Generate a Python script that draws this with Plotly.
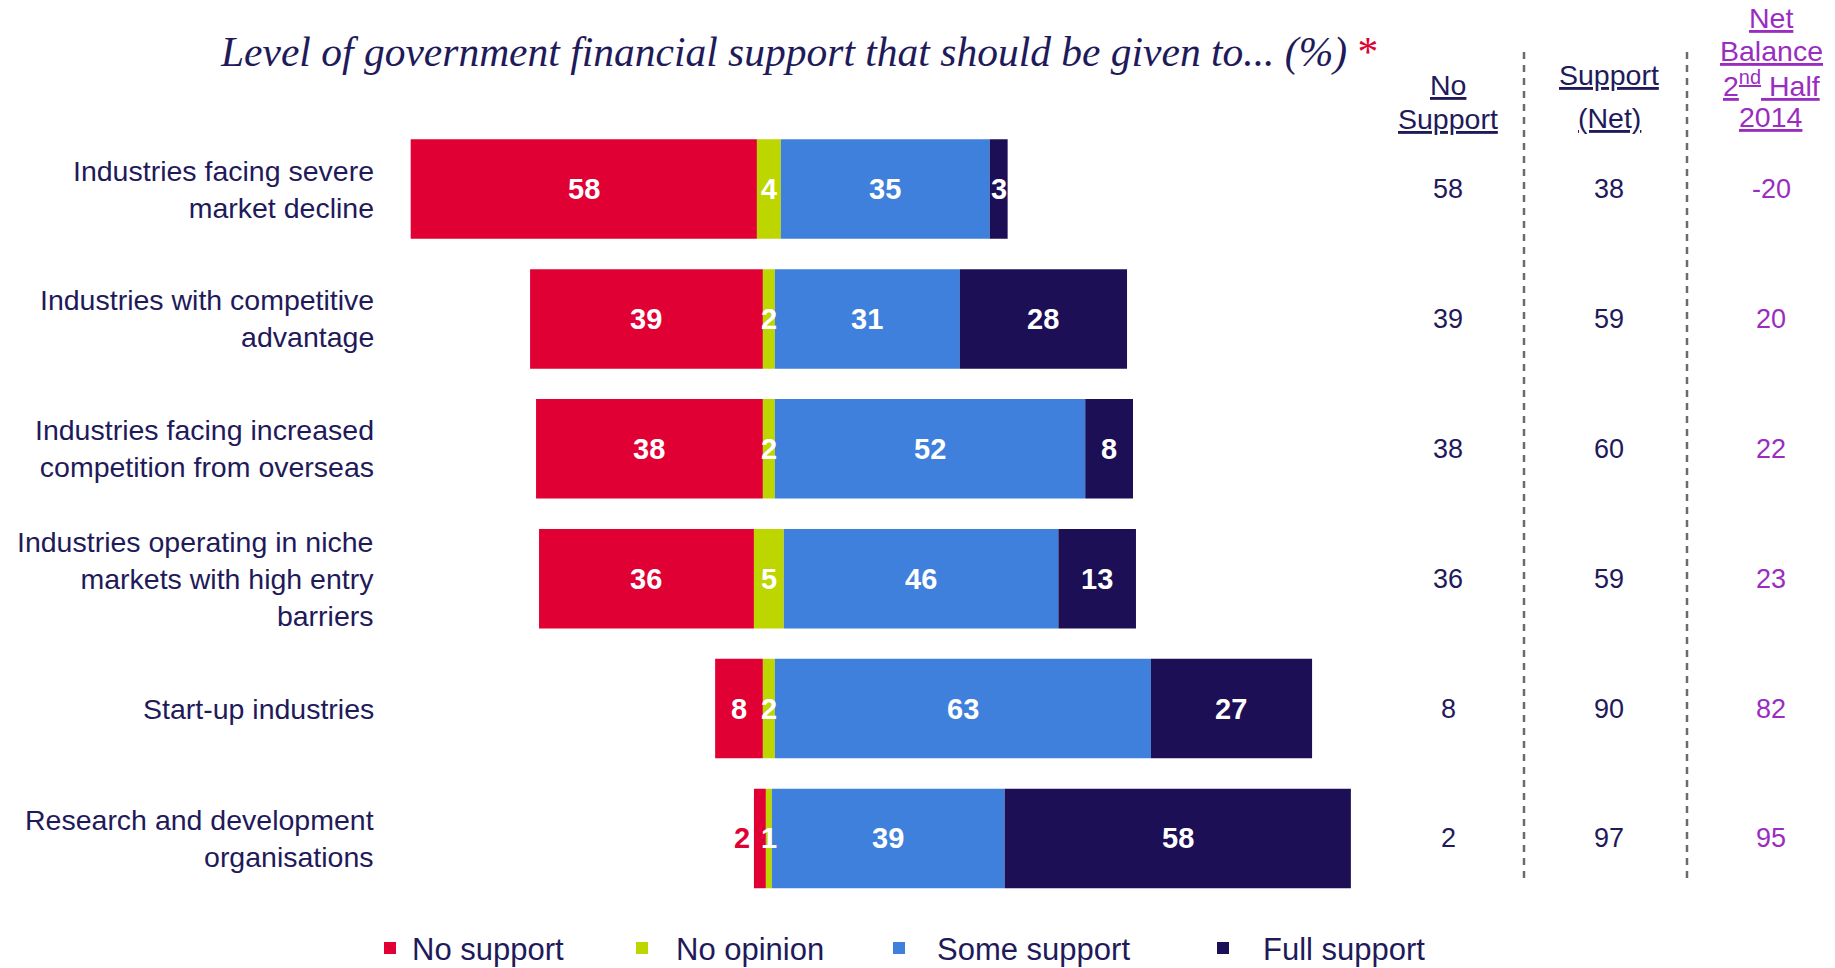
import plotly.graph_objects as go

# ---- data -------------------------------------------------------------
categories = [
    "Industries facing severe<br>market decline",
    "Industries with competitive<br>advantage",
    "Industries facing increased<br>competition from overseas",
    "Industries operating in niche<br>markets with high entry<br>barriers",
    "Start-up industries",
    "Research and development<br>organisations",
]
no_support = [58, 39, 38, 36, 8, 2]
no_opinion = [4, 2, 2, 5, 2, 1]
some_support = [35, 31, 52, 46, 63, 39]
full_support = [3, 28, 8, 13, 27, 58]
support_net = [38, 59, 60, 59, 90, 97]
net_balance_h2_2014 = [-20, 20, 22, 23, 82, 95]

series_names = ["No support", "No opinion", "Some support", "Full support"]

# ---- styling ----------------------------------------------------------
W, H = 1835, 968
RED = "#E00034"
GREEN = "#BED600"
BLUE = "#3E80DB"
NAVY = "#1C0F55"
TEXT = "#1F1A5A"
PURPLE = "#9A2DBF"
GREY = "#6B6B6B"
SANS = "Arial, Liberation Sans, sans-serif"
SERIF = "Georgia, Liberation Serif, serif"
colors = [RED, GREEN, BLUE, NAVY]


def px_x(x):
    return x / W


def px_y(y):
    return 1 - y / H


# Bars diverge around the middle of the "No opinion" segment
series = [no_support, no_opinion, some_support, full_support]
bases = []
for i in range(len(categories)):
    start = -(no_support[i] + no_opinion[i] / 2)
    row = []
    for s in series:
        row.append(start)
        start += s[i]
    bases.append(row)

fig = go.Figure()
for k, (name, vals) in enumerate(zip(series_names, series)):
    fig.add_trace(go.Bar(
        name=name,
        y=categories,
        x=vals,
        base=[bases[i][k] for i in range(len(categories))],
        orientation="h",
        marker=dict(color=colors[k], line=dict(width=0)),
        width=0.766,
        showlegend=False,
        hoverinfo="skip",
    ))

annotations = []

# value labels on the segments
for k, vals in enumerate(series):
    for i, v in enumerate(vals):
        b = bases[i][k]
        if k == 0 and v < 5:
            annotations.append(dict(
                x=b, y=categories[i], xref="x", yref="y", text=f"<b>{v}</b>",
                showarrow=False, xanchor="right", xshift=-2,
                font=dict(family=SANS, size=29, color=RED)))
        else:
            annotations.append(dict(
                x=b + v / 2, y=categories[i], xref="x", yref="y", text=f"<b>{v}</b>",
                showarrow=False, xanchor="center",
                font=dict(family=SANS, size=29, color="white")))

# category labels
for c in categories:
    annotations.append(dict(
        x=px_x(376), y=c, xref="paper", yref="y", text=c, showarrow=False,
        xanchor="right", align="right", yanchor="middle",
        font=dict(family=SANS, size=28.5, color=TEXT)))

# right-hand summary columns
col_x = [1448, 1609, 1771]
col_vals = [no_support, support_net, net_balance_h2_2014]
col_colors = [TEXT, TEXT, PURPLE]
for cx, vals, cc in zip(col_x, col_vals, col_colors):
    for i, v in enumerate(vals):
        annotations.append(dict(
            x=px_x(cx), y=categories[i], xref="paper", yref="y", text=str(v),
            showarrow=False, xanchor="center",
            font=dict(family=SANS, size=27, color=cc)))

# column headers
headers = [
    ("No", 1448, 85, TEXT),
    ("Support", 1448, 119, TEXT),
    ("Support", 1609, 75, TEXT),
    ("(Net)", 1609, 118, TEXT),
    ("Net", 1771, 18, PURPLE),
    ("Balance", 1771, 51, PURPLE),
    ("2<sup>nd</sup> Half", 1771, 84, PURPLE),
    ("2014", 1771, 117, PURPLE),
]
for t, hx, hy, hc in headers:
    annotations.append(dict(
        x=px_x(hx), y=px_y(hy), xref="paper", yref="paper", text=t,
        showarrow=False, xanchor="center", yanchor="middle",
        font=dict(family=SANS, size=28.5, color=hc, lineposition="under")))

# title
annotations.append(dict(
    x=px_x(218), y=px_y(52), xref="paper", yref="paper",
    text=("<i>Level of government financial support that should be given to... (%)</i>"
          f" <span style='color:{RED}'>*</span>"),
    showarrow=False, xanchor="left", yanchor="middle",
    font=dict(family=SERIF, size=41.5, color=TEXT)))

# legend
legend_marker_x = [390, 642, 899, 1223]
legend_text_x = [410, 674, 935, 1261]
legend_y = 948
shapes = []
for name, col, mx, tx in zip(series_names, colors, legend_marker_x, legend_text_x):
    shapes.append(dict(
        type="rect", xref="paper", yref="paper",
        x0=px_x(mx - 6), x1=px_x(mx + 6), y0=px_y(legend_y + 6), y1=px_y(legend_y - 6),
        fillcolor=col, line=dict(width=0)))
    annotations.append(dict(
        x=px_x(tx), y=px_y(legend_y + 1), xref="paper", yref="paper", text=name,
        showarrow=False, xanchor="left", yanchor="middle",
        font=dict(family=SANS, size=31, color=TEXT)))

# dashed column separators
for sx in [1524, 1687]:
    shapes.append(dict(
        type="line", xref="paper", yref="paper",
        x0=px_x(sx), x1=px_x(sx), y0=px_y(52), y1=px_y(878),
        line=dict(color=GREY, width=2.5, dash="7px,6px")))

fig.update_layout(
    width=W, height=H,
    margin=dict(l=0, r=0, t=0, b=0),
    paper_bgcolor="white", plot_bgcolor="white",
    barmode="overlay",
    xaxis=dict(range=[-128.8, 178.6], visible=False, fixedrange=True),
    yaxis=dict(type="category", categoryorder="array", categoryarray=categories,
               range=[5.997, -1.455], visible=False, fixedrange=True),
    annotations=annotations,
    shapes=shapes,
    showlegend=False,
)

fig.write_html("out.html")
